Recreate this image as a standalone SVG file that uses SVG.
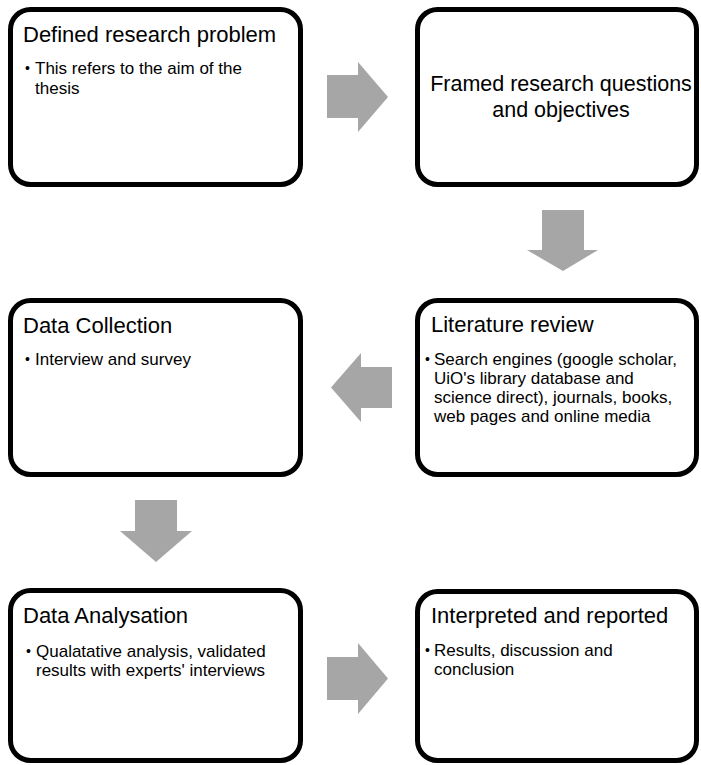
<svg xmlns="http://www.w3.org/2000/svg" width="701" height="765" viewBox="0 0 701 765">
<style>
.box{fill:#ffffff;stroke:#000000;stroke-width:5}
.arr{fill:#a6a6a6;stroke:none}
.t{font-family:"Liberation Sans",Arial,sans-serif;font-size:22px;fill:#000000}
.t2{font-family:"Liberation Sans",Arial,sans-serif;font-size:21.5px;fill:#000000;text-anchor:middle}
.b{font-family:"Liberation Sans",Arial,sans-serif;font-size:17px;fill:#000000}
.d{font-family:"Liberation Sans",Arial,sans-serif;font-size:14px;fill:#000000}
</style>
<rect width="701" height="765" fill="#ffffff"/>
<g id="connectors">
<polygon class="arr" points="327,75 358,75 358,62 388,97 358,132 358,118 327,118"/>
<polygon class="arr" points="542,210 584,210 584,250 598,250 563,271 527,250 542,250"/>
<polygon class="arr" points="392,367 361,367 361,353 331,387.5 361,422 361,408 392,408"/>
<polygon class="arr" points="135,500 177,500 177,531 192,531 156,562 120,531 135,531"/>
<polygon class="arr" points="327,657 358,657 358,643 388,678.5 358,714 358,700 327,700"/>
</g>
<g id="node1">
<rect class="box" x="10.5" y="9.5" width="290" height="175" rx="20"/>
<text class="t" x="23" y="42">Defined research problem</text>
<text class="d" x="25" y="73">•</text>
<text class="b" x="35" y="74">This refers to the aim of the</text>
<text class="b" x="35" y="94">thesis</text>
</g>
<g id="node2">
<rect class="box" x="417.5" y="9.5" width="279" height="175" rx="20"/>
<text class="t2" x="561" y="91">Framed research questions</text>
<text class="t2" x="561" y="117">and objectives</text>
</g>
<g id="node3">
<rect class="box" x="417.5" y="300.5" width="279" height="174" rx="20"/>
<text class="t" x="431" y="332">Literature review</text>
<text class="d" x="425" y="364">•</text>
<text class="b" x="434" y="365">Search engines (google scholar,</text>
<text class="b" x="434" y="384">UiO's library database and</text>
<text class="b" x="434" y="403">science direct), journals, books,</text>
<text class="b" x="434" y="422">web pages and online media</text>
</g>
<g id="node4">
<rect class="box" x="10.5" y="300.5" width="290" height="174" rx="20"/>
<text class="t" x="23" y="333">Data Collection</text>
<text class="d" x="25" y="364">•</text>
<text class="b" x="35" y="365">Interview and survey</text>
</g>
<g id="node5">
<rect class="box" x="10.5" y="590.5" width="290" height="170" rx="20"/>
<text class="t" x="23" y="623">Data Analysation</text>
<text class="d" x="26" y="656">•</text>
<text class="b" x="36" y="657">Qualatative analysis, validated</text>
<text class="b" x="36" y="676">results with experts' interviews</text>
</g>
<g id="node6">
<rect class="box" x="417.5" y="591.5" width="279" height="169" rx="20"/>
<text class="t" x="431" y="623">Interpreted and reported</text>
<text class="d" x="425" y="655">•</text>
<text class="b" x="434" y="656">Results, discussion and</text>
<text class="b" x="434" y="675">conclusion</text>
</g>
</svg>
